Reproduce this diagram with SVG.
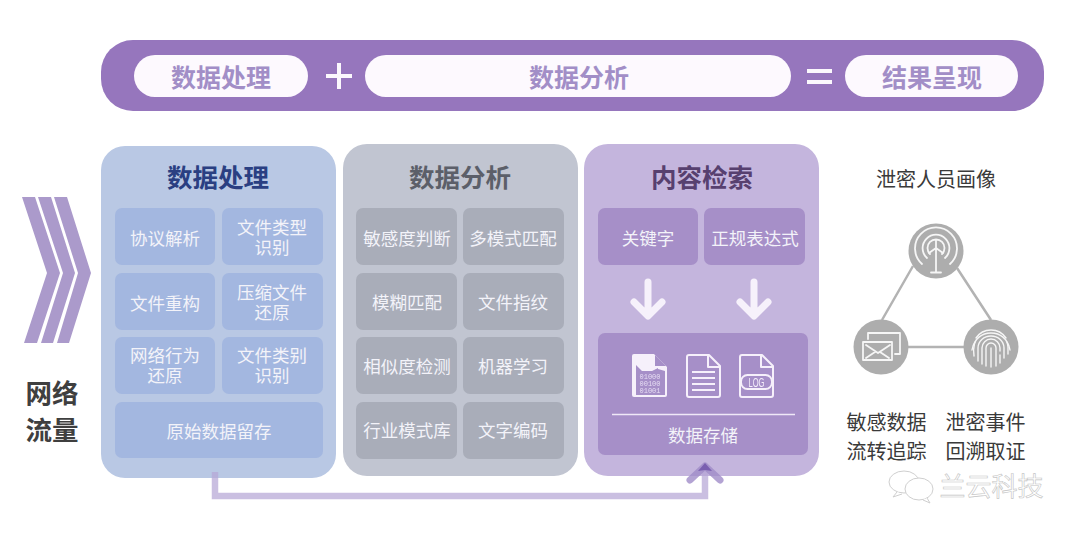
<svg xmlns="http://www.w3.org/2000/svg" width="1080" height="533" viewBox="0 0 1080 533">
<style>
text{font-family:"Noto Sans CJK SC","Noto Sans",sans-serif;text-anchor:middle}
.pill{fill:#fdf9fe}
.pt{font-size:25px;font-weight:700;fill:#a28ec7}
.op{fill:#fbf8fd}
.title{font-size:25.500px;font-weight:700}
.c1{fill:#a3b7e0}.c2{fill:#a9adb9}.c3{fill:#a68fc8}
.ct{font-size:17.500px;fill:#f3f3f9}
.dk{font-size:20px;fill:#3a3a3a}
.ln{stroke:#b3b3b3;stroke-width:2.500;fill:none}
.ci{fill:#adadad}
.ic{fill:none;stroke:#f6f6f6;stroke-width:1.800;stroke-linecap:round;stroke-linejoin:round}
.fi{fill:none;stroke:#f6f0fb;stroke-width:2;stroke-linejoin:round}
.wm{fill:#fff;stroke:#cfcfcf;stroke-width:1}
</style>
<defs><filter id="soft" x="-5%" y="-5%" width="110%" height="110%"><feGaussianBlur stdDeviation="0.4"/></filter></defs>
<rect width="1080" height="533" fill="#fff"/>

<g id="formula-bar">
<rect x="101" y="40" width="943" height="71" rx="32" fill="#9676bd"/>
<rect class="pill" x="134" y="55" width="174" height="42" rx="21"/>
<text class="pt" x="221" y="87">数据处理</text>
<path class="op" d="M337 63h4v11h11v4h-11v11h-4v-11h-11v-4h11z"/>
<rect class="pill" x="365" y="55" width="426" height="42" rx="21"/>
<text class="pt" x="579" y="87">数据分析</text>
<path class="op" d="M807 69h25v4h-25zM807 80h25v4h-25z"/>
<rect class="pill" x="845" y="55" width="173" height="42" rx="21"/>
<text class="pt" x="932" y="87">结果呈现</text>
</g>

<g id="traffic-input">
<g fill="#ab9acb">
<path d="M22 197h13l25 76-23 70h-13l23-70z"/>
<path d="M38 197h13l24 76-22 70h-12l22-70z"/>
<path d="M54 197h13l24 76-22 70h-12l21-70z"/>
</g>
<text x="52" y="403" font-size="26.500" font-weight="700" fill="#3f3f3f">网络</text>
<text x="52" y="440" font-size="26.500" font-weight="700" fill="#3f3f3f">流量</text>
</g>

<g id="panel-processing">
<rect x="101" y="146" width="235" height="332" rx="24" fill="#b9c8e4"/>
<text class="title" x="218" y="187" fill="#2a3f82">数据处理</text>
<rect class="c1" x="115" y="208" width="100" height="57" rx="7"/>
<text class="ct" x="165" y="245">协议解析</text>
<rect class="c1" x="222" y="208" width="101" height="57" rx="7"/>
<text class="ct" x="272" y="234">文件类型<tspan x="272" dy="20">识别</tspan></text>
<rect class="c1" x="115" y="273" width="100" height="57" rx="7"/>
<text class="ct" x="165" y="310">文件重构</text>
<rect class="c1" x="222" y="273" width="101" height="57" rx="7"/>
<text class="ct" x="272" y="299">压缩文件<tspan x="272" dy="20">还原</tspan></text>
<rect class="c1" x="115" y="337" width="100" height="57" rx="7"/>
<text class="ct" x="165" y="362">网络行为<tspan x="165" dy="20">还原</tspan></text>
<rect class="c1" x="222" y="337" width="101" height="57" rx="7"/>
<text class="ct" x="272" y="362">文件类别<tspan x="272" dy="20">识别</tspan></text>
<rect class="c1" x="115" y="402" width="208" height="56" rx="7"/>
<text class="ct" x="219" y="438">原始数据留存</text>
</g>

<g id="panel-analysis">
<rect x="343" y="144" width="235" height="332" rx="24" fill="#c1c5d1"/>
<text class="title" x="460" y="187" fill="#5c5f69">数据分析</text>
<rect class="c2" x="356" y="208" width="101" height="57" rx="7"/>
<text class="ct" x="407" y="245">敏感度判断</text>
<rect class="c2" x="463" y="208" width="101" height="57" rx="7"/>
<text class="ct" x="513" y="245">多模式匹配</text>
<rect class="c2" x="356" y="273" width="101" height="57" rx="7"/>
<text class="ct" x="407" y="309">模糊匹配</text>
<rect class="c2" x="463" y="273" width="101" height="57" rx="7"/>
<text class="ct" x="513" y="309">文件指纹</text>
<rect class="c2" x="356" y="337" width="101" height="57" rx="7"/>
<text class="ct" x="407" y="373">相似度检测</text>
<rect class="c2" x="463" y="337" width="101" height="57" rx="7"/>
<text class="ct" x="513" y="373">机器学习</text>
<rect class="c2" x="356" y="402" width="101" height="57" rx="7"/>
<text class="ct" x="407" y="437">行业模式库</text>
<rect class="c2" x="463" y="402" width="101" height="57" rx="7"/>
<text class="ct" x="513" y="437">文字编码</text>
</g>

<g id="panel-retrieval">
<rect x="584" y="144" width="235" height="332" rx="24" fill="#c4b5dd"/>
<text class="title" x="702" y="187" fill="#57406f">内容检索</text>
<rect class="c3" x="598" y="208" width="100" height="57" rx="7"/>
<text class="ct" x="648" y="245">关键字</text>
<rect class="c3" x="704" y="208" width="101" height="57" rx="7"/>
<text class="ct" x="755" y="245">正规表达式</text>
<rect class="c3" x="598" y="333" width="210" height="122" rx="7"/>
<g id="file-icons" filter="url(#soft)">
<path d="M634 354h20l13 13v28q0 2-2 2h-31q-2 0-2-2v-39q0-2 2-2z" fill="#f6f0fb"/>
<path d="M636 371v-6l6 6h10l6-3v1l7 2v24h-29z" fill="#a68fc8"/>
<path d="M655 355l11 11h-11z" fill="#a68fc8"/>
<text x="650" y="379" font-size="7" fill="#e6dcf3" style="font-family:'Liberation Mono',monospace">01000</text>
<text x="650" y="386" font-size="7" fill="#e6dcf3" style="font-family:'Liberation Mono',monospace">00100</text>
<text x="650" y="393" font-size="7" fill="#e6dcf3" style="font-family:'Liberation Mono',monospace">01001</text>
<path class="fi" d="M689 355h20l11 11v29q0 2-2 2h-29q-2 0-2-2v-38q0-2 2-2zM708 355v12h12"/>
<path class="fi" d="M692 372h23M692 378h23M692 384h23M692 390h23"/>
<path class="fi" d="M742 355h20l11 11v29q0 2-2 2h-29q-2 0-2-2v-38q0-2 2-2zM761 355v12h12"/>
<rect x="741" y="375" width="31" height="14" rx="6.500" fill="none" stroke="#f6f0fb" stroke-width="2"/>
<text x="756.500" y="386.500" font-size="12" textLength="16" lengthAdjust="spacingAndGlyphs" fill="#f6f0fb" style="font-family:'Liberation Sans',sans-serif">LOG</text>
</g>
<path d="M612 414.500h183" stroke="#efe8f7" stroke-width="1.300"/>
<text class="ct" x="703" y="442">数据存储</text>
</g>

<g id="connectors">
<g fill="none" stroke="#f6f1fb" stroke-width="7" stroke-linecap="round" stroke-linejoin="round">
<path d="M648 282v32M634 302l14 14 14-14"/>
<path d="M754 282v32M740 302l14 14 14-14"/>
</g>
<path d="M215 472v24h490v-28" fill="none" stroke="#b6a6d6" stroke-opacity=".72" stroke-width="6.500"/>
<path d="M690 480l15-14 15 14" fill="none" stroke="#a08cc8" stroke-opacity=".8" stroke-width="7" stroke-linecap="round" stroke-linejoin="round"/>
<path d="M705 463l-7 8 7-1 7 1z" fill="#7a5fb0"/>
<path class="ln" d="M913 266L882 320M957 268L991 320M908 347H964"/>
</g>

<g id="portrait">
<text class="dk" x="936" y="187">泄密人员画像</text>
<g id="icon-signal">
<circle class="ci" cx="936" cy="251" r="27.500"/>
<g class="ic" filter="url(#soft)">
<path d="M922 264A21 21 0 1 1 950 264"/>
<path d="M927 258A13.400 13.400 0 1 1 945 258"/>
<path d="M930 254A8.500 8.500 0 1 1 942 254"/>
<path d="M936 240v8M936 248l-7 5M936 248l7 5M936 248v24M931 272.500h10"/>
</g>
</g>
<g id="icon-mail">
<circle class="ci" cx="881" cy="347" r="27.500"/>
<g class="ic" filter="url(#soft)">
<path d="M868 339v-6h32v21h-5"/>
<rect x="863" y="342" width="29" height="18"/>
<path d="M866 345l12 8 12-8M866 358l9-6M889 358l-9-6"/>
</g>
</g>
<g id="icon-fingerprint">
<circle class="ci" cx="991" cy="347" r="27.500"/>
<g class="ic" filter="url(#soft)" style="stroke-width:1.400px">
<path d="M976 338a18 18 0 0 1 30 0M972 350a19 19 0 0 1 3-8M1010 350a19 19 0 0 0-3-8"/>
<path d="M974 356c0-3-1-6 0-9a17 14 0 0 1 34 0v7"/>
<path d="M978 361v-13a13 12 0 0 1 26 0v10"/>
<path d="M982 364v-16a9 9 0 0 1 18 0v3M1000 355v8"/>
<path d="M986 366v-18a5 5 0 0 1 10 0v18"/>
<path d="M991 348v19"/>
</g>
</g>
<text class="dk" x="886.500" y="430">敏感数据</text>
<text class="dk" x="985.500" y="430">泄密事件</text>
<text class="dk" x="886.500" y="459">流转追踪</text>
<text class="dk" x="985.500" y="459">回溯取证</text>
</g>

<g id="watermark">
<ellipse class="wm" cx="904" cy="482" rx="15" ry="11"/>
<path class="wm" d="M897 492l-4 5 9-3"/>
<ellipse class="wm" cx="919" cy="489" rx="14" ry="11"/>
<path class="wm" d="M927 498l3 5-7-3"/>
<text x="991.500" y="496" font-size="26" fill="#ffffff" stroke="#c4c4c4" stroke-width=".6">兰云科技</text>
</g>
</svg>
